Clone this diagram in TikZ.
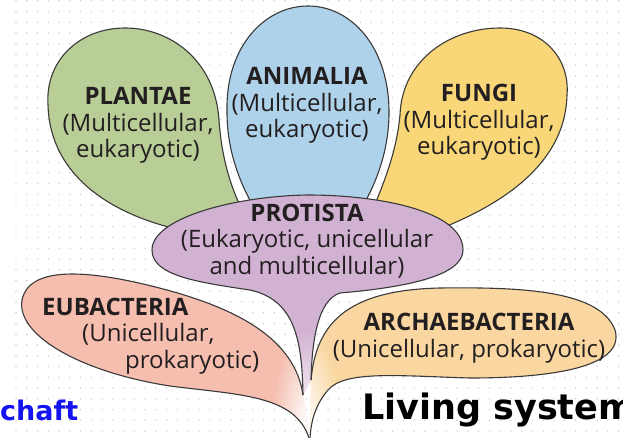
\documentclass[tikz,border=0pt]{standalone}
\usepackage{fontspec}
\setmainfont{Open Sans}
\newfontfamily\handfont{DejaVu Sans}
\usetikzlibrary{fadings}
\definecolor{ink}{HTML}{3A3A3A}
\definecolor{txt}{HTML}{231F20}
\definecolor{dotgray}{HTML}{CFCFCF}
\definecolor{plantgreen}{HTML}{B9CD96}
\definecolor{animalblue}{HTML}{AFD2EB}
\definecolor{fungiyellow}{HTML}{F9D778}
\definecolor{protistmauve}{HTML}{D2B2D2}
\definecolor{eubacpink}{HTML}{F5BEAF}
\definecolor{archaeorange}{HTML}{FAD7A0}
\definecolor{handblue}{HTML}{1414F0}
\tikzfading[name=stemglow, inner color=transparent!5, outer color=transparent!100]

% petal outlines, in pixels of the picture
\newcommand\plantaepath{(260,240) .. controls (235,205) and (222,165) .. (219,120)
  .. controls (215,60) and (170,28) .. (125,28)
  .. controls (80,28) and (45,60) .. (48,105)
  .. controls (50,185) and (130,235) .. (260,240) -- cycle}
\newcommand\animaliapath{(308,270) .. controls (341,245) and (390,185) .. (389,110)
  .. controls (388,45) and (350,6) .. (308,6)
  .. controls (266,6) and (226,45) .. (227,110)
  .. controls (226,185) and (275,245) .. (308,270) -- cycle}
\newcommand\fungipath{(355,255) .. controls (368,215) and (395,170) .. (400,115)
  .. controls (402,60) and (450,28) .. (500,28)
  .. controls (545,28) and (570,60) .. (567,95)
  .. controls (565,175) and (480,225) .. (355,255) -- cycle}
\newcommand\protistaedge{(303,395) .. controls (302,340) and (295,300) .. (250,290)
  .. controls (195,282) and (152,275) .. (152,250)
  .. controls (152,218) and (235,196) .. (308,195)
  .. controls (376,195) and (463,210) .. (463,250)
  .. controls (463,275) and (410,287) .. (340,293)
  .. controls (318,300) and (312,340) .. (311,380)}
\newcommand\eubacteriaedge{(303,395) .. controls (295,340) and (240,310) .. (167,290)
  .. controls (100,272) and (30,262) .. (22,300)
  .. controls (16,335) and (80,372) .. (170,386)
  .. controls (240,395) and (295,395) .. (309,438)}
\newcommand\archaeaedge{(311,380) .. controls (316,325) and (345,290) .. (440,288)
  .. controls (520,287) and (600,290) .. (615,330)
  .. controls (625,365) and (560,378) .. (470,378)
  .. controls (400,376) and (345,370) .. (328,390)
  .. controls (316,404) and (311,420) .. (310,438)}

\begin{document}
\begin{tikzpicture}[x=1pt, y=-1pt,
  petal/.style={draw=ink, line width=1.1pt},
  kingdom/.style={font=\fontsize{24}{26.5}\selectfont, text=txt, align=center,
                  inner sep=0pt, anchor=base},
  hand/.style={font=\handfont\bfseries\fontsize{35}{40}\selectfont,
               inner sep=0pt, anchor=base west}
]
  \useasboundingbox (0,0) rectangle (623,438);
  \clip (0,0) rectangle (623,438);
  \fill[white] (0,0) rectangle (623,438);

  % dotted paper
  \foreach \i in {0,...,56}
    \foreach \j in {0,...,40}
      \fill[dotgray] (16+\i*10.76, 0.7+\j*10.76) circle (0.8);

  % back petals
  \filldraw[petal, fill=plantgreen] \plantaepath;
  \filldraw[petal, fill=animalblue] \animaliapath;
  \filldraw[petal, fill=fungiyellow] \fungipath;

  % front petals
  \fill[protistmauve] \protistaedge -- cycle;
  \fill[eubacpink] \eubacteriaedge -- cycle;
  \fill[archaeorange] \archaeaedge -- cycle;

  % pale stem
  \begin{scope}
    \clip \protistaedge -- cycle \eubacteriaedge -- cycle \archaeaedge -- cycle;
    \fill[white, path fading=stemglow] (306,420) ellipse (34 and 90);
  \end{scope}

  \draw[petal] \protistaedge;
  \draw[petal] \eubacteriaedge;
  \draw[petal] \archaeaedge;

  % kingdom labels (anchored on the last line)
  \node[kingdom] (plantae) at (138,158) {\textbf{PLANTAE}\\(Multicellular,\\eukaryotic)};
  \node[kingdom] (animalia) at (307,138) {\textbf{ANIMALIA}\\(Multicellular,\\eukaryotic)};
  \node[kingdom] (fungi) at (479,155) {\textbf{FUNGI}\\(Multicellular,\\eukaryotic)};
  \node[kingdom] (protista) at (307,274)
    {\textbf{PROTISTA}\\(Eukaryotic, unicellular\\and multicellular)};
  \node[kingdom, align=left, anchor=base west] (eubacteria) at (42,368)
    {\textbf{EUBACTERIA}\\\hspace*{40pt}(Unicellular,\\\hspace*{83pt}prokaryotic)};
  \node[kingdom] (archaebacteria) at (469,357)
    {\textbf{ARCHAEBACTERIA}\\(Unicellular, prokaryotic)};

  \node[hand, text=handblue, font=\handfont\bfseries\fontsize{27}{30}\selectfont]
    (chaft) at (0,420) {chaft};
  \node[hand] (living) at (362,419) {Living system};
\end{tikzpicture}
\end{document}
